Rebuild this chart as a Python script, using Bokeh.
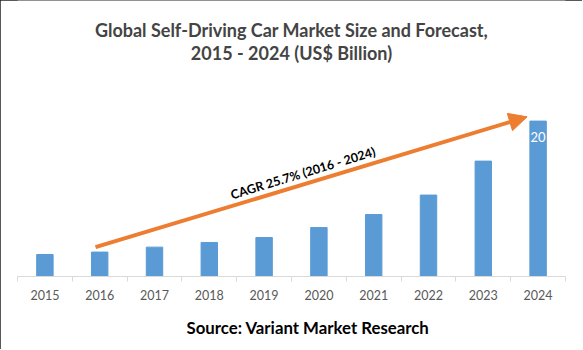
import math
from bokeh.plotting import figure
from bokeh.models import (Range1d, FixedTicker, Label, Arrow, NormalHead,
                          Title, ColumnDataSource)
from bokeh.core.properties import value
from bokeh.embed import file_html
from bokeh.resources import INLINE

years = ["2015", "2016", "2017", "2018", "2019", "2020", "2021", "2022", "2023", "2024"]
market_size = [2.83, 3.14, 3.78, 4.38, 5.02, 6.30, 7.98, 10.48, 14.85, 20.0]
title_lines = ["Global Self-Driving Car Market Size and Forecast,", "2015 - 2024 (US$ Billion)"]
source_text = "Source: Variant Market Research"
cagr_text = "CAGR 25.7% (2016 - 2024)"

FONT = "Lato"
BAR = "#5B9BD5"
ORANGE = "#ED7D31"
PPU = 7.77  # pixels per US$ billion

xs = [i + 0.5 for i in range(len(years))]
src = ColumnDataSource(dict(x=xs, top=market_size, year=years))

p = figure(width=582, height=349, output_backend="svg", toolbar_location=None,
           x_range=Range1d(0, len(years)), y_range=Range1d(0, 276 / PPU),
           min_border_left=17, min_border_right=17, min_border_top=0,
           min_border_bottom=73)
p.styles = {"outline": "1.5px solid #222222", "outline-offset": "-1.5px"}
p.outline_line_color = None
p.xgrid.visible = False
p.ygrid.visible = False
p.yaxis.visible = False

p.vbar(x="x", top="top", width=0.3, bottom=0, source=src,
       fill_color=BAR, line_color=BAR)

# value label on last bar
p.text(x=[xs[-1]], y=[market_size[-1]], text=[f"{market_size[-1]:g}"],
       text_color="white", text_font=value(FONT), text_font_size="13px",
       text_align="center", text_baseline="middle", y_offset=16)

ax = p.xaxis[0]
ax.ticker = FixedTicker(ticks=xs, minor_ticks=list(range(len(years) + 1)))
ax.major_label_overrides = {x: y for x, y in zip(xs, years)}
ax.major_tick_out = 0
ax.major_tick_in = 0
ax.minor_tick_out = 5
ax.minor_tick_in = 0
ax.minor_tick_line_color = "#D9D9D9"
ax.axis_line_color = "#D9D9D9"
ax.major_label_text_font = FONT
ax.major_label_text_font_size = "12.5px"
ax.major_label_text_color = "#595959"
ax.major_label_standoff = 8

# source line below the axis
p.add_layout(Title(text=source_text, align="left", offset=169,
                   text_font=FONT, text_font_style="bold", text_font_size="16.8px",
                   standoff=24, text_color="black"), "below")

# arrow
p.add_layout(Arrow(x_start=1.423, y_start=3.77, x_end=9.30, y_end=20.55,
                   line_color=ORANGE, line_width=4,
                   end=NormalHead(size=18, fill_color=ORANGE, line_color=ORANGE)))

angle = math.atan2(134, 440)
p.add_layout(Label(x=5.21, y=13.3, text=cagr_text, angle=angle,
                   text_font=FONT, text_font_style="bold", text_font_size="12.5px",
                   text_align="center", text_baseline="alphabetic", text_color="black"))

# titles (screen units relative to frame bottom-left)
p.add_layout(Label(x=274, y=247, x_units="screen", y_units="screen", text=title_lines[0],
                   text_font=FONT, text_font_style="bold", text_font_size="18px",
                   text_align="center", text_baseline="alphabetic"))
p.add_layout(Label(x=274, y=223.5, x_units="screen", y_units="screen", text=title_lines[1],
                   text_font=FONT, text_font_style="bold", text_font_size="18px",
                   text_align="center", text_baseline="alphabetic"))

open("out.html", "w").write(file_html(p, INLINE))
